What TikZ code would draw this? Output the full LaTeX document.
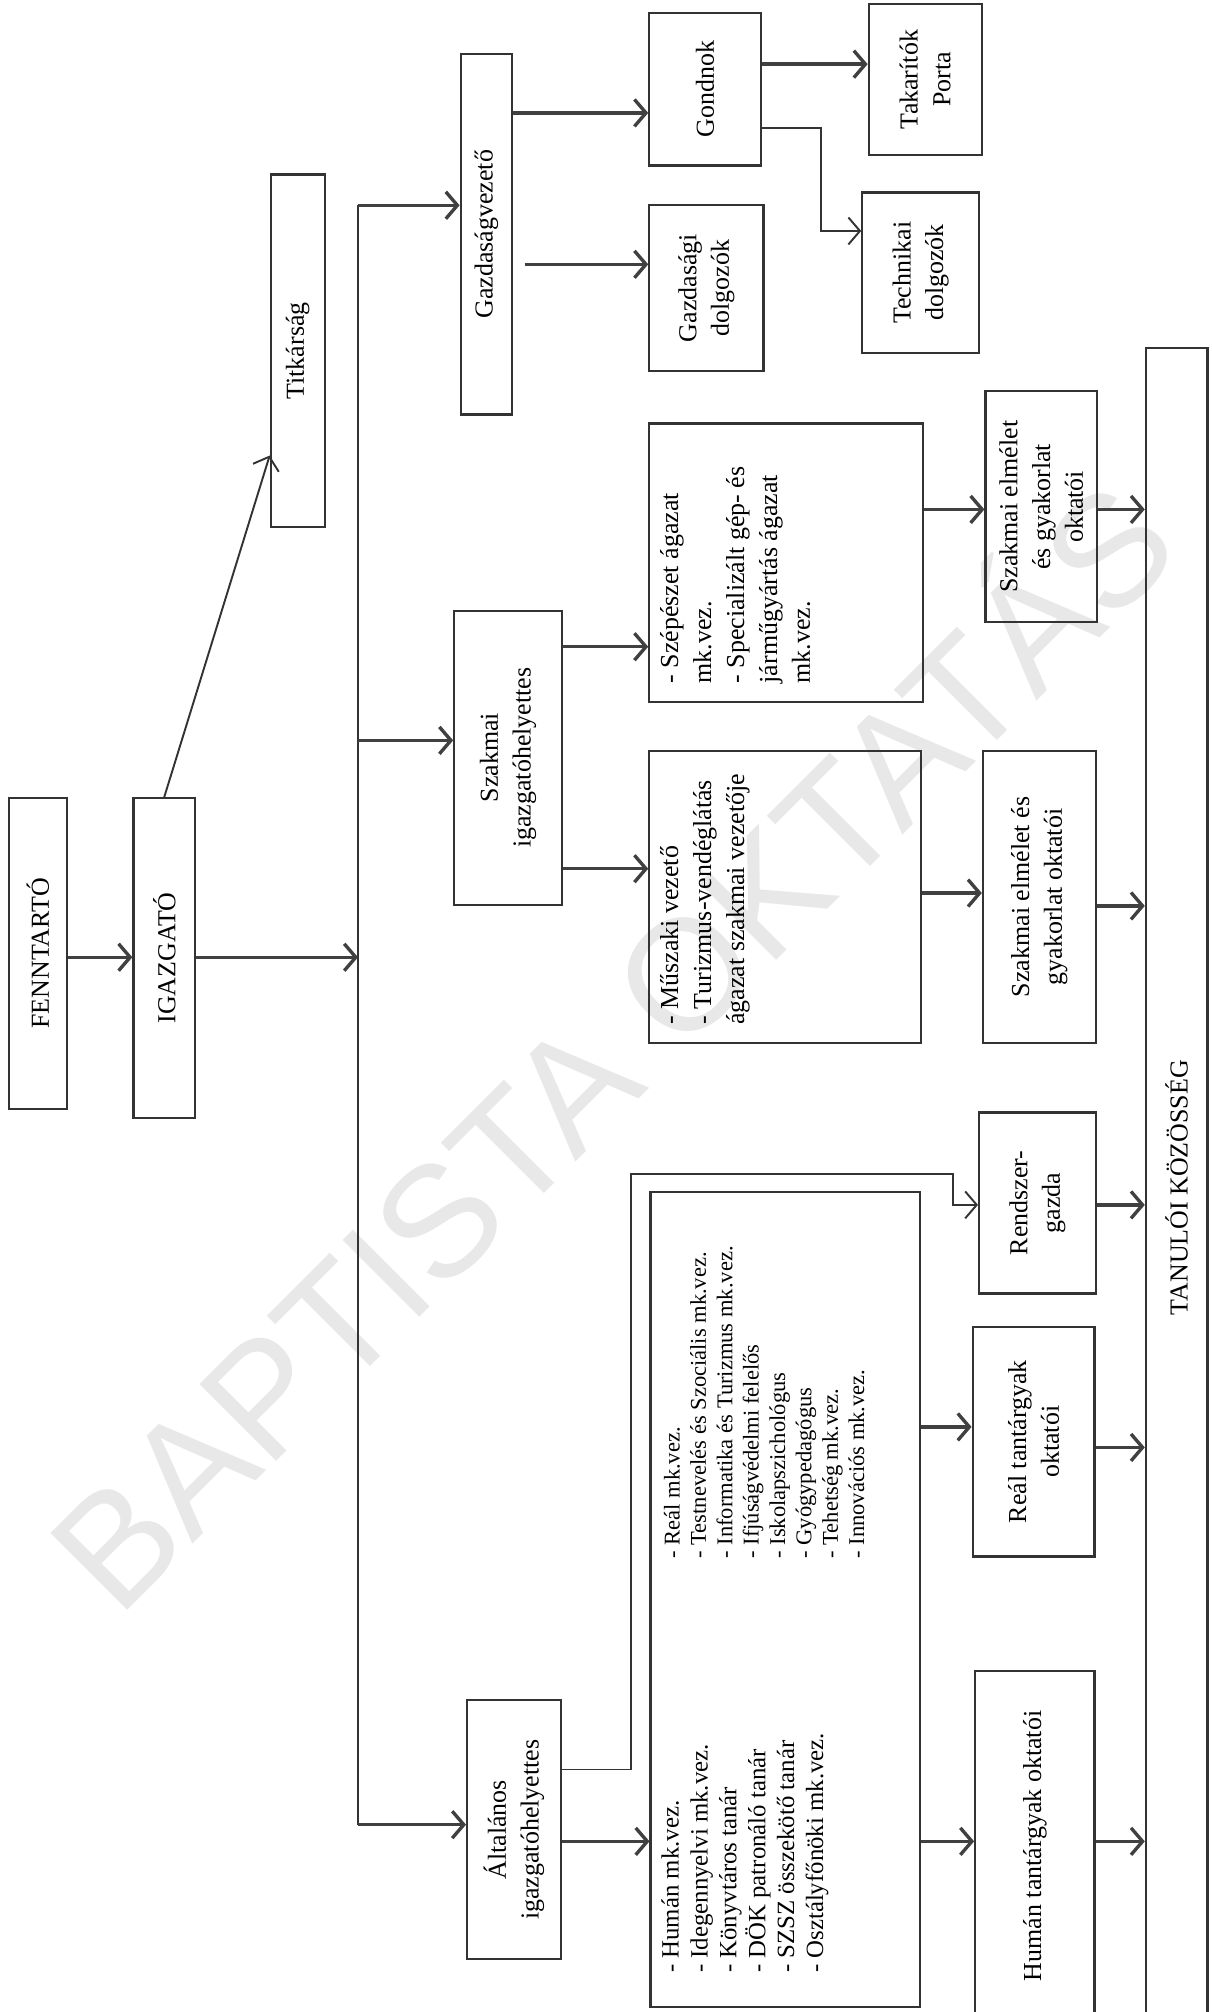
\documentclass[tikz,border=0pt]{standalone}
\usepackage{fontspec}
\setmainfont{Liberation Serif}
\newfontfamily\wmfont{Liberation Sans}
\usetikzlibrary{arrows.meta}

\begin{document}
\begin{tikzpicture}[x=0.2mm, y=-0.2mm,
    box/.style={draw=black!80, line width=0.95pt, rotate=90, inner sep=0pt, align=center, text=black, font=\fontsize{11.5}{14.5}\selectfont},
    txt/.style={rotate=90, inner sep=0pt, align=left, text=black},
    arr/.style={draw=black!75, line width=1.5pt, -{Straight Barb[length=1.8mm, width=4.2mm]}},
    thinarr/.style={draw=black!80, line width=0.85pt, -{Straight Barb[length=1.8mm, width=4.2mm]}},
    bus/.style={draw=black!80, line width=1.2pt}]
    \useasboundingbox (0,0) rectangle (944,1568);
    \node[rotate=45, anchor=base west, inner sep=0pt, text=black!9, font=\wmfont\fontsize{70}{70}\selectfont] (wm) at (92,1262) {BAPTISTA OKTATÁS};

    \node[box, minimum width=48.4mm, minimum height=9mm] (fenn) at (29.5,743) {FENNTARTÓ};
    \node[box, minimum width=49.8mm, minimum height=9.6mm] (igaz) at (128,746.5) {IGAZGATÓ};
    \node[box, minimum width=55mm, minimum height=8.4mm] (titk) at (232,273.5) {Titkárság};
    \node[box, minimum width=56.2mm, minimum height=8mm] (gazd) at (379,182.5) {Gazdaságvezető};
    \node[box, minimum width=23.8mm, minimum height=17.4mm] (gond) at (549.5,69.5) {Gondnok};
    \node[box, minimum width=25.8mm, minimum height=17.8mm] (gdolg) at (550.5,224.5) {Gazdasági\\dolgozók};
    \node[box, minimum width=23.6mm, minimum height=17.6mm] (takar) at (721,62) {Takarítók\\Porta};
    \node[box, minimum width=25mm, minimum height=18.2mm] (techn) at (717.5,212.5) {Technikai\\dolgozók};
    \node[box, minimum width=45.8mm, minimum height=16.8mm] (szig) at (396,590.5) {Szakmai\\igazgatóhelyettes};
    \node[box, minimum width=40.4mm, minimum height=14.6mm] (alt) at (400.5,1426) {Általános\\igazgatóhelyettes};
    \node[box, minimum width=43.4mm, minimum height=42.6mm] (szep) at (612.5,438.5) {};
    \node[box, minimum width=45.6mm, minimum height=42.4mm] (musz) at (612,699) {};
    \node[box, minimum width=36mm, minimum height=17.4mm] (szokt1) at (811.5,395) {Szakmai elmélet\\és gyakorlat\\oktatói};
    \node[box, minimum width=45.6mm, minimum height=17.6mm] (szokt2) at (810,699) {Szakmai elmélet és\\gyakorlat oktatói};
    \node[box, minimum width=28.2mm, minimum height=18.2mm] (rendsz) at (808.5,937.5) {Rendszer-\\gazda};
    \node[box, minimum width=35.8mm, minimum height=19mm] (real) at (805.5,1123.5) {Reál tantárgyak\\oktatói};
    \node[box, minimum width=54.6mm, minimum height=18.6mm] (human) at (806.5,1438.5) {Humán tantárgyak oktatói};
    \node[box, minimum width=127mm, minimum height=42mm] (lista) at (612,1246.5) {};
    \node[box, minimum width=261.8mm, minimum height=9.6mm] (tanulo) at (917,925.5) {TANULÓI KÖZÖSSÉG};

    \node[txt, anchor=north west, font=\fontsize{11.5}{14.6}\selectfont] (szeptxt) at ([shift={(9,-15)}]szep.north west) {- Szépészet ágazat\\mk.vez.\\- Specializált gép- és\\járműgyártás ágazat\\mk.vez.};
    \node[txt, anchor=north west, font=\fontsize{11.5}{14.6}\selectfont] (musztxt) at ([shift={(9,-15)}]musz.north west) {- Műszaki vezető\\- Turizmus-vendéglátás\\ágazat szakmai vezetője};
    \node[txt, anchor=north west, font=\fontsize{11}{12.8}\selectfont] (humtxt) at ([shift={(9,-27)}]lista.north west) {- Humán mk.vez.\\- Idegennyelvi mk.vez.\\- Könyvtáros tanár\\- DÖK patronáló tanár\\- SZSZ összekötő tanár\\- Osztályfőnöki mk.vez.};
    \node[txt, anchor=north west, font=\fontsize{10}{11.7}\selectfont] (realtxt) at (517,1215) {- Reál mk.vez.\\- Testnevelés és Szociális mk.vez.\\- Informatika és Turizmus mk.vez.\\- Ifjúságvédelmi felelős\\- Iskolapszichológus\\- Gyógypedagógus\\- Tehetség mk.vez.\\- Innovációs mk.vez.};

    \coordinate (bustop) at (279,160);
    \coordinate (busbot) at (279,1422);
    \draw[bus] (bustop) -- (busbot);

    \draw[arr] (fenn.south |- 0,746) -- (igaz.north |- 0,746);
    \draw[arr] (igaz.south |- 0,746) -- (bustop |- 0,746);
    \draw[thinarr] (igaz.east) -- (titk.north |- 0,355);
    \draw[arr] (bustop) -- (gazd.north |- bustop);
    \draw[arr] (bustop |- 0,577) -- (szig.north |- 0,577);
    \draw[arr] (busbot) -- (alt.north |- busbot);

    \draw[arr] (gazd.south |- 0,88) -- (gond.north |- 0,88);
    \draw[arr, shorten <=1.8mm] (gazd.south |- 0,206) -- (gdolg.north |- 0,206);
    \draw[arr] (gond.south |- 0,50) -- (takar.north |- 0,50);
    \draw[thinarr] (gond.south |- 0,100) -- ++(46,0) |- (techn.north |- 0,180);

    \draw[arr] (szig.south |- 0,504) -- (szep.north |- 0,504);
    \draw[arr] (szig.south |- 0,677) -- (musz.north |- 0,677);
    \draw[arr] (szep.south |- 0,397) -- (szokt1.north |- 0,397);
    \draw[arr] (szokt1.south |- 0,397) -- (tanulo.north |- 0,397);
    \draw[arr] (musz.south |- 0,696) -- (szokt2.north |- 0,696);
    \draw[arr] (szokt2.south |- 0,706) -- (tanulo.north |- 0,706);

    \draw[thinarr] (alt.south |- 0,1379) -- (492,1379) -- (492,915) -- (743,915) -- (743,939) -- (rendsz.north |- 0,939);
    \draw[arr] (rendsz.south |- 0,939) -- (tanulo.north |- 0,939);
    \draw[arr] (lista.south |- 0,1112) -- (real.north |- 0,1112);
    \draw[arr] (real.south |- 0,1128) -- (tanulo.north |- 0,1128);
    \draw[arr] (alt.south |- 0,1435) -- (lista.north |- 0,1435);
    \draw[arr] (lista.south |- 0,1435) -- (human.north |- 0,1435);
    \draw[arr] (human.south |- 0,1435) -- (tanulo.north |- 0,1435);
\end{tikzpicture}
\end{document}
